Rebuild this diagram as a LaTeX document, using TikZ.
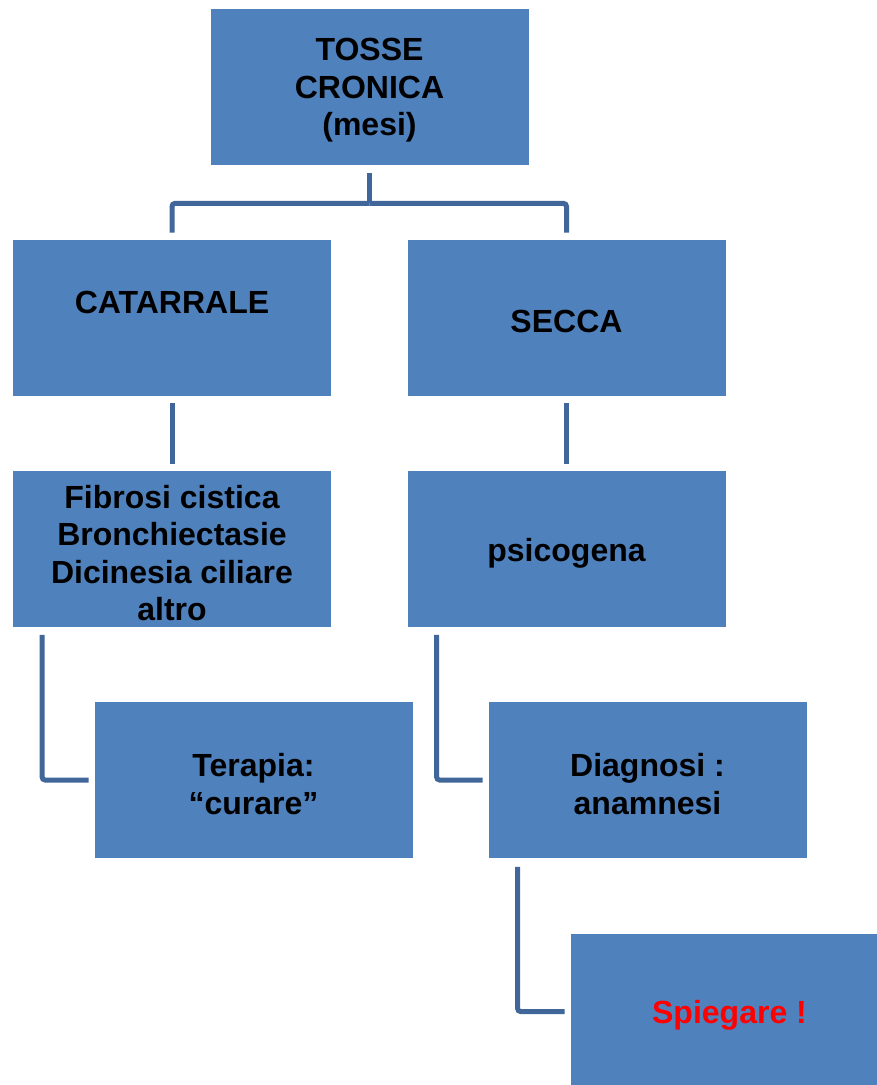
\documentclass[tikz,border=0pt]{standalone}
\usepackage{fontspec}
\setmainfont{Liberation Sans}
\usetikzlibrary{calc}
\definecolor{boxblue}{HTML}{4F81BD}
\definecolor{linkblue}{HTML}{41679A}
\definecolor{alertred}{HTML}{FF0000}
% a filled box with its caption set a little below the centre
\newcommand{\flowbox}[4][black]{%
  \node[box] (#2) at (#3) {};
  \node[boxtext, text=#1] (#2-text) at ($(#2.center)+(0,4)$) {#4};}
\begin{document}
\begin{tikzpicture}[x=1pt,y=-1pt,
  box/.style={fill=boxblue, draw=white, line width=0.8pt,
    minimum width=319pt, minimum height=157pt, inner sep=0pt},
  boxtext/.style={inner sep=0pt, align=center,
    font=\fontsize{32}{37.5}\selectfont\bfseries},
  link/.style={draw=linkblue, line width=5pt, rounded corners=3pt}]
\useasboundingbox (0,0) rectangle (877,1085);
\fill[white] (0,0) rectangle (877,1085);

% boxes
\flowbox{tosse}{369.5,86.5}{TOSSE\\CRONICA\\(mesi)}
\flowbox{catar}{172,317.5}{CATARRALE\\\mbox{}}
\flowbox{secca}{566.5,317.5}{SECCA}
\flowbox{fibro}{172,549}{Fibrosi cistica\\Bronchiectasie\\Dicinesia ciliare\\altro}
\flowbox{psico}{566.5,549}{psicogena}
\flowbox{terap}{253.5,780}{Terapia:\\“curare”}
\flowbox{diagn}{647.5,780}{Diagnosi :\\anamnesi}
\flowbox[alertred]{spieg}{729.5,1011.5}{Spiegare !}

% branch from the root
\coordinate (split) at ($(tosse.south)+(0,38)$);
\draw[link] ($(tosse.south)+(0,8)$) -- (split);
\draw[link] (split) -| ($(catar.north)+(0,-6)$);
\draw[link] (split) -| ($(secca.north)+(0,-6)$);

% straight links
\draw[link] ($(catar.south)+(0,7)$) -- ($(fibro.north)+(0,-6)$);
\draw[link] ($(secca.south)+(0,7)$) -- ($(psico.north)+(0,-6)$);

% elbow links
\draw[link] ($(fibro.south west)+(30,7)$) |- ($(terap.west)+(-5,0)$);
\draw[link] ($(psico.south west)+(30,7)$) |- ($(diagn.west)+(-5,0)$);
\draw[link] ($(diagn.south west)+(30,8)$) |- ($(spieg.west)+(-5,0)$);
\end{tikzpicture}
\end{document}
